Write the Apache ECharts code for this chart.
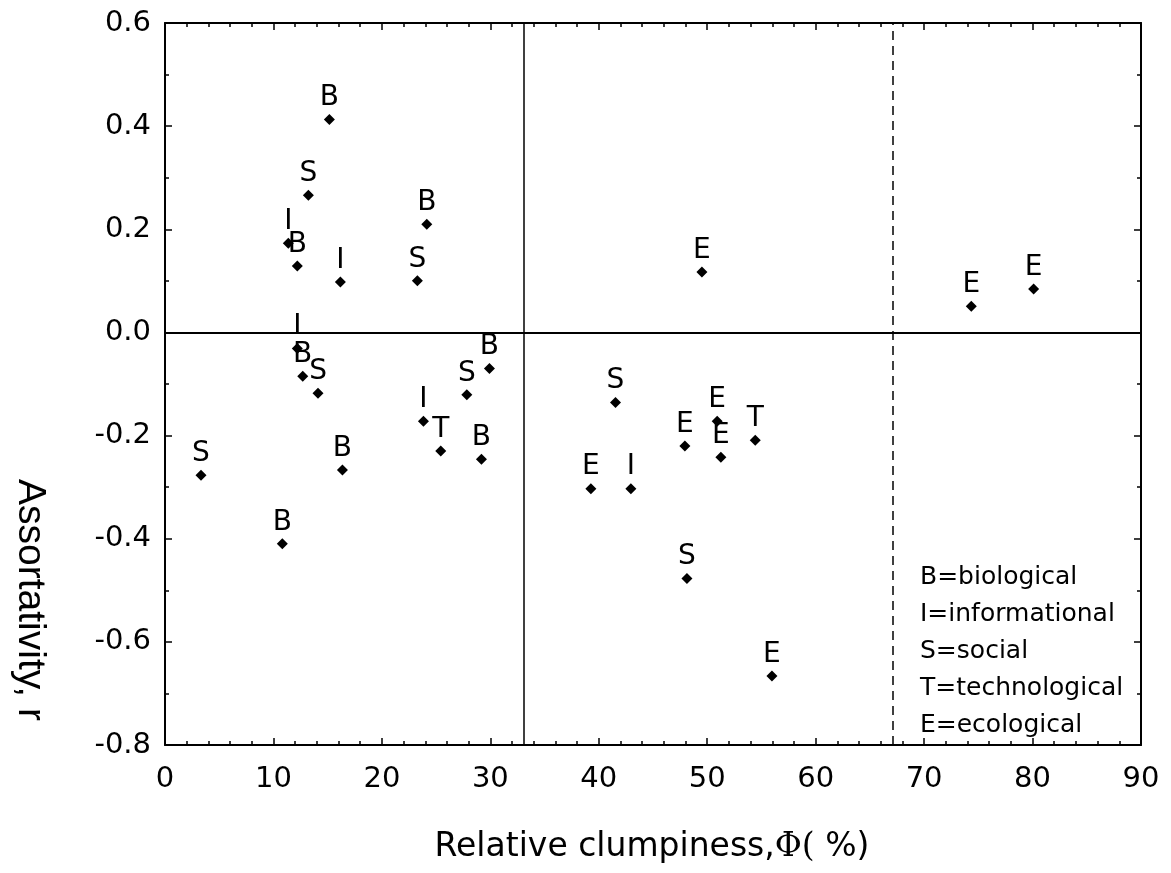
<!DOCTYPE html>
<html>
<head>
<meta charset="utf-8">
<script src="https://cdn.jsdelivr.net/npm/echarts@6/dist/echarts.min.js"></script>
<style>
  html, body { margin: 0; padding: 0; background: #fff; }
</style>
</head>
<body>
<div id="main" style="width: 1171px;height:873px;"></div>
<script type="text/javascript">
	// 数据：相对聚集度 Φ(%)、同配系数 r、网络类型
	var clumpiness = [15.16, 13.22, 24.14, 11.37, 12.20, 16.17, 23.27, 12.20, 12.70, 14.11,
		29.92, 27.83, 23.83, 25.43, 29.18, 3.32, 16.36, 10.82, 49.51, 41.54,
		50.92, 54.43, 47.94, 51.26, 39.27, 42.96, 48.13, 55.97, 74.35, 80.10];
	var assortativity = [0.413, 0.266, 0.210, 0.173, 0.129, 0.098, 0.100, -0.031, -0.085, -0.118,
		-0.070, -0.121, -0.172, -0.230, -0.246, -0.277, -0.267, -0.410, 0.117, -0.136,
		-0.172, -0.209, -0.220, -0.242, -0.303, -0.303, -0.477, -0.666, 0.051, 0.084];
	var netTypes = ['B', 'S', 'B', 'I', 'B', 'I', 'S', 'I', 'B', 'S',
		'B', 'S', 'I', 'T', 'B', 'S', 'B', 'B', 'E', 'S',
		'E', 'T', 'E', 'E', 'E', 'I', 'S', 'E', 'E', 'E'];
	var legendLines = ['B=biological', 'I=informational', 'S=social', 'T=technological', 'E=ecological'];
	var solidX = 33.1, dashedX = 67.1, zeroY = 0;

	var points = [];
	for(var i = 0; i < clumpiness.length; i++) {
		points.push([clumpiness[i], assortativity[i], netTypes[i]]);
	}

	var chart = echarts.init(document.getElementById('main'), null, {
		renderer: 'canvas'
	});

	var axisLine = { show: true, onZero: false, lineStyle: { color: '#000', width: 2 } };
	var tick = { show: true, inside: true, length: 7, lineStyle: { color: '#000', width: 1.5 } };
	var minor = function(n) {
		return { show: true, splitNumber: n, length: 4, lineStyle: { color: '#000', width: 1.5 } };
	};
	var tickFont = { color: '#000', fontSize: 29, fontFamily: 'DejaVu Sans' };

	chart.setOption({
		animation: false,
		backgroundColor: '#fff',
		grid: { left: 165, right: 30, top: 23, bottom: 128, containLabel: false },
		xAxis: [{
			type: 'value', min: 0, max: 90, interval: 10, position: 'bottom',
			axisLine: axisLine, axisTick: tick, minorTick: minor(5),
			splitLine: { show: false },
			axisLabel: Object.assign({ margin: 20 }, tickFont)
		}, {
			type: 'value', min: 0, max: 90, interval: 10, position: 'top',
			axisLine: axisLine, axisTick: tick, minorTick: minor(5),
			splitLine: { show: false }, axisLabel: { show: false }
		}],
		yAxis: [{
			type: 'value', min: -0.8, max: 0.6, interval: 0.2, position: 'left',
			axisLine: axisLine, axisTick: tick, minorTick: minor(2),
			splitLine: { show: false },
			axisLabel: Object.assign({
				margin: 14,
				formatter: function(v) { return v.toFixed(1); }
			}, tickFont)
		}, {
			type: 'value', min: -0.8, max: 0.6, interval: 0.2, position: 'right',
			axisLine: axisLine, axisTick: tick, minorTick: minor(2),
			splitLine: { show: false }, axisLabel: { show: false }
		}],
		series: [{
			type: 'scatter',
			xAxisIndex: 0,
			yAxisIndex: 0,
			symbol: 'diamond',
			symbolSize: 11,
			itemStyle: { color: '#000', opacity: 1 },
			label: {
				show: true,
				position: 'top',
				distance: 2,
				color: '#000',
				fontSize: 28,
				fontFamily: 'DejaVu Sans',
				formatter: function(p) { return p.value[2]; }
			},
			markLine: {
				silent: true,
				symbol: 'none',
				label: { show: false },
				data: [
					{ xAxis: solidX, lineStyle: { color: '#000', width: 1.5, type: 'solid' } },
					{ xAxis: dashedX, lineStyle: { color: '#000', width: 1.5, type: [9, 6] } },
					{ yAxis: zeroY, lineStyle: { color: '#000', width: 2, type: 'solid' } }
				]
			},
			data: points
		}],
		graphic: [{
			type: 'text',
			x: 920,
			y: 559,
			style: {
				text: legendLines.join('\n'),
				fill: '#000',
				fontSize: 25,
				fontFamily: 'DejaVu Sans',
				lineHeight: 37,
				textAlign: 'left',
				textVerticalAlign: 'top'
			}
		}, {
			type: 'text',
			x: 30,
			y: 600,
			rotation: -Math.PI / 2,
			style: {
				text: 'Assortativity, r',
				fill: '#000',
				fontSize: 39,
				fontFamily: 'Liberation Sans',
				textAlign: 'center',
				textVerticalAlign: 'middle'
			}
		}, {
			type: 'text',
			x: 652,
			y: 847,
			style: {
				text: 'Relative clumpiness,{s|Φ(} %)',
				fill: '#000',
				fontSize: 33,
				fontFamily: 'DejaVu Sans',
				textAlign: 'center',
				textVerticalAlign: 'middle',
				rich: {
					s: { fontSize: 33, fontFamily: 'DejaVu Serif', fill: '#000' }
				}
			}
		}]
	});
</script>
</body>
</html>
